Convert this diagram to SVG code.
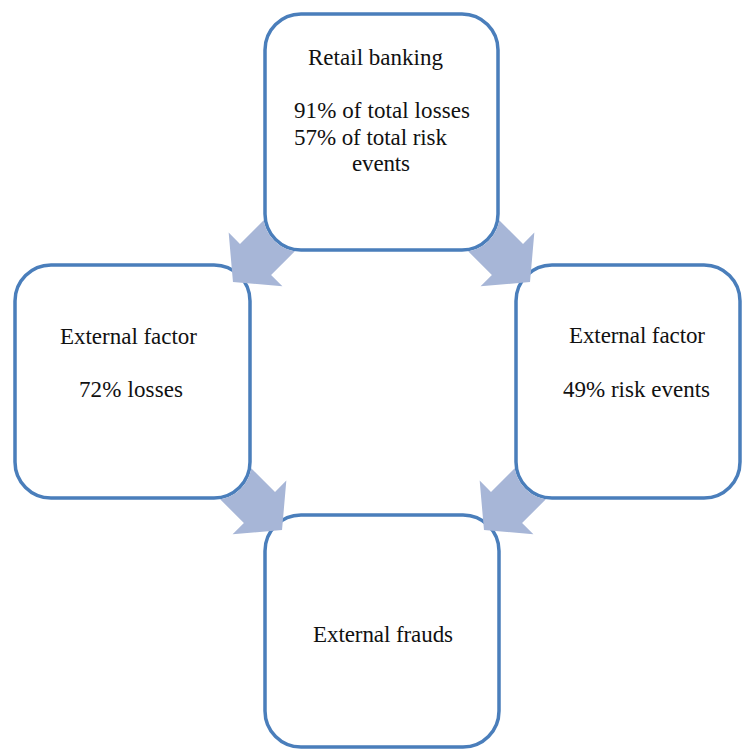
<svg xmlns="http://www.w3.org/2000/svg" xmlns:xlink="http://www.w3.org/1999/xlink" width="743" height="749" viewBox="0 0 743 749">
<style>
.box{fill:#ffffff;stroke:#4a7ebb;stroke-width:3.5}
text{font-family:'Liberation Serif','Times New Roman',Times,serif;font-size:23px;fill:#111111}
.arr{fill:#a7b6d7;stroke:none}
</style>
<defs>
<path id="blockArrow" d="M30.68,-22 L64.3,-22 L64.3,-38 L96.2,0 L64.3,38 L64.3,22 L30.68,22 A37.75,37.75 0 0 0 30.68,-22 Z"/>
</defs>
<rect width="743" height="749" fill="#ffffff"/>
<g id="node-retail-banking">
<rect class="box" x="265" y="14" width="233" height="236" rx="36" ry="36"/>
<text x="308" y="65" textLength="135">Retail banking</text>
<text x="294" y="118" textLength="176">91% of total losses</text>
<text x="294" y="145" textLength="153">57% of total risk</text>
<text x="352" y="171" textLength="58">events</text>
</g>
<g id="node-external-factor-losses">
<rect class="box" x="15" y="265" width="235" height="233" rx="36" ry="36"/>
<text x="60" y="344" textLength="137">External factor</text>
<text x="79" y="397" textLength="104">72% losses</text>
</g>
<g id="node-external-factor-events">
<rect class="box" x="516" y="265" width="224" height="233" rx="36" ry="36"/>
<text x="569" y="343" textLength="136">External factor</text>
<text x="563" y="397" textLength="147">49% risk events</text>
</g>
<g id="node-external-frauds">
<rect class="box" x="265" y="515" width="234" height="232" rx="36" ry="36"/>
<text x="313" y="642" textLength="140">External frauds</text>
</g>
<g id="connectors">
<use class="arr" xlink:href="#blockArrow" href="#blockArrow" transform="translate(301,214) rotate(135)"/>
<use class="arr" xlink:href="#blockArrow" href="#blockArrow" transform="translate(462,214) rotate(45)"/>
<use class="arr" xlink:href="#blockArrow" href="#blockArrow" transform="translate(214,462) rotate(45)"/>
<use class="arr" xlink:href="#blockArrow" href="#blockArrow" transform="translate(552,462) rotate(135)"/>
</g>
</svg>
